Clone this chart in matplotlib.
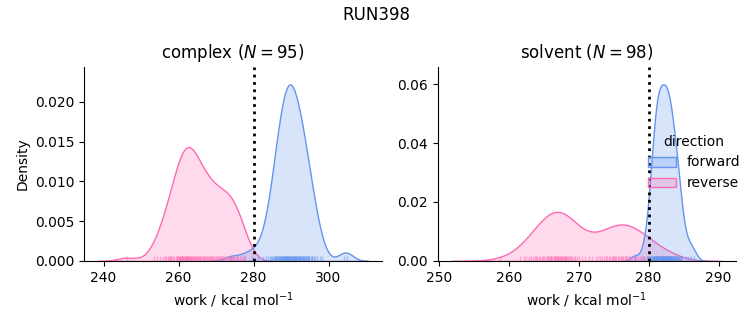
import numpy as np
import matplotlib.pyplot as plt
from matplotlib.colors import to_rgba
from matplotlib.patches import Patch

run_name = "RUN398"
phases = ["complex", "solvent"]
directions = ["forward", "reverse"]
colors = {"forward": "cornflowerblue", "reverse": "hotpink"}
threshold = 280

complex_forward = [
    274.0, 277.5, 279.6, 281.2, 282.6, 283.2, 283.8, 284.4, 284.6, 284.9,
    285.2, 285.4, 285.6, 285.8, 286.0, 286.1, 286.3, 286.5, 286.6, 286.7,
    286.9, 287.0, 287.2, 287.3, 287.4, 287.5, 287.6, 287.8, 287.9, 288.1,
    288.2, 288.3, 288.4, 288.5, 288.6, 288.7, 288.8, 288.9, 289.0, 289.1,
    289.2, 289.3, 289.4, 289.5, 289.6, 289.7, 289.8, 289.9, 290.0, 290.1,
    290.2, 290.4, 290.5, 290.6, 290.7, 290.8, 290.9, 291.0, 291.1, 291.2,
    291.4, 291.5, 291.6, 291.7, 291.8, 292.0, 292.1, 292.3, 292.4, 292.5,
    292.6, 292.8, 292.9, 293.1, 293.3, 293.4, 293.5, 293.7, 293.9, 294.0,
    294.2, 294.4, 294.6, 294.8, 294.9, 295.2, 295.5, 295.7, 296.0, 296.3,
    296.9, 297.6, 298.2, 304.1, 305.0,
]
complex_reverse = [
    246.2, 253.4, 254.3, 255.1, 255.8, 256.3, 256.7, 257.1, 257.4, 257.7,
    257.9, 258.1, 258.5, 258.9, 259.3, 259.5, 259.7, 259.9, 260.1, 260.2,
    260.4, 260.5, 260.7, 260.8, 261.0, 261.1, 261.3, 261.5, 261.6, 261.8,
    261.9, 262.0, 262.2, 262.3, 262.5, 262.6, 262.8, 262.9, 263.1, 263.3,
    263.4, 263.6, 263.8, 263.9, 264.1, 264.3, 264.5, 264.7, 264.9, 265.1,
    265.3, 265.5, 265.7, 265.9, 266.1, 266.4, 266.6, 266.8, 267.1, 267.3,
    267.6, 267.8, 268.1, 268.3, 268.6, 268.8, 269.1, 269.3, 269.6, 269.9,
    270.2, 270.5, 270.8, 271.1, 271.4, 271.6, 271.9, 272.2, 272.5, 272.8,
    273.1, 273.4, 273.7, 274.0, 274.3, 274.5, 274.7, 275.1, 275.5, 275.7,
    275.9, 276.3, 276.7, 277.3, 277.8,
]
solvent_forward = [
    278.0, 279.3, 279.7, 279.9, 280.1, 280.2, 280.3, 280.4, 280.5, 280.6,
    280.6, 280.7, 280.8, 280.8, 280.8, 280.9, 280.9, 281.0, 281.0, 281.05,
    281.1, 281.1, 281.2, 281.2, 281.25, 281.3, 281.35, 281.4, 281.4, 281.45,
    281.5, 281.55, 281.6, 281.65, 281.7, 281.7, 281.75, 281.8, 281.85, 281.9,
    281.95, 282.0, 282.05, 282.1, 282.1, 282.15, 282.2, 282.25, 282.3, 282.35,
    282.4, 282.4, 282.45, 282.5, 282.55, 282.6, 282.6, 282.65, 282.7, 282.75,
    282.8, 282.85, 282.9, 282.9, 282.95, 283.0, 283.05, 283.1, 283.15, 283.2,
    283.2, 283.25, 283.3, 283.35, 283.4, 283.5, 283.55, 283.6, 283.65, 283.75,
    283.8, 283.8, 283.9, 283.95, 284.0, 284.1, 284.2, 284.25, 284.35, 284.4,
    284.5, 284.6, 284.7, 284.8, 285.3, 285.7, 286.0, 286.5,
]
solvent_reverse = [
    258.8, 261.6, 262.1, 262.5, 262.9, 263.2, 263.5, 263.7, 263.9, 264.1,
    264.3, 264.5, 264.7, 264.9, 265.1, 265.3, 265.5, 265.6, 265.8, 265.9,
    266.0, 266.1, 266.2, 266.4, 266.5, 266.6, 266.7, 266.8, 266.9, 267.0,
    267.1, 267.2, 267.3, 267.4, 267.5, 267.6, 267.7, 267.9, 268.0, 268.1,
    268.2, 268.3, 268.5, 268.6, 268.7, 268.9, 269.1, 269.3, 269.5, 269.8,
    270.0, 270.4, 270.9, 271.4, 271.9, 272.4, 272.8, 273.1, 273.4, 273.6,
    273.9, 274.1, 274.3, 274.5, 274.7, 274.9, 275.0, 275.2, 275.4, 275.6,
    275.8, 276.0, 276.1, 276.2, 276.4, 276.6, 276.7, 276.8, 277.0, 277.2,
    277.4, 277.6, 277.9, 278.0, 278.2, 278.5, 278.8, 279.0, 279.1, 279.4,
    279.7, 280.0, 280.4, 280.9, 281.5, 282.1, 282.8, 283.5,
]

works = {
    ("complex", "forward"): complex_forward,
    ("complex", "reverse"): complex_reverse,
    ("solvent", "forward"): solvent_forward,
    ("solvent", "reverse"): solvent_reverse,
}
n_total = sum(len(v) for v in works.values())


def kde(values, gridsize=200, cut=3):
    # gaussian kde, scott bandwidth (same as seaborn/scipy default)
    x = np.asarray(values, dtype=float)
    bw = x.std(ddof=1) * len(x) ** (-1 / 5)
    support = np.linspace(x.min() - cut * bw, x.max() + cut * bw, gridsize)
    dens = np.exp(-0.5 * ((support[:, None] - x[None, :]) / bw) ** 2).sum(axis=1)
    dens /= len(x) * bw * np.sqrt(2 * np.pi)
    return support, dens


fig, axes = plt.subplots(1, 2, figsize=(7.53, 3.25), dpi=100)
fig.subplots_adjust(left=0.112, right=0.977, bottom=0.197, top=0.795, wspace=0.187)

for ax, phase in zip(axes, phases):
    ymax = 0
    # reverse drawn first, forward on top (like seaborn hue order)
    for direction in directions[::-1]:
        vals = works[(phase, direction)]
        support, dens = kde(vals)
        dens = dens * len(vals) / n_total  # common norm over all data
        c = colors[direction]
        ax.fill_between(support, 0, dens, facecolor=to_rgba(c, 0.25),
                        edgecolor=c, linewidth=1)
        ymax = max(ymax, dens.max())
    for direction in directions[::-1]:
        ax.vlines(works[(phase, direction)], 0, 0.025,
                  transform=ax.get_xaxis_transform(),
                  colors=colors[direction], alpha=0.5, linewidth=1)
    ax.axvline(threshold, color="k", linestyle=":", linewidth=2)
    ax.set_ylim(0, ymax * 1.1)
    n = len(works[(phase, "forward")])
    ax.set_title(f"{phase} ($N = {n}$)")
    ax.set_xlabel("work / kcal mol$^{-1}$")
    ax.spines["top"].set_visible(False)
    ax.spines["right"].set_visible(False)

axes[0].set_ylabel("Density")
axes[1].set_ylabel("")

handles = [Patch(facecolor=to_rgba(colors[d], 0.25), edgecolor=colors[d], linewidth=1)
           for d in directions]
fig.legend(handles, directions, loc="center right", title="direction", frameon=False)
fig.suptitle(run_name)

plt.savefig("out.png", dpi=100)
